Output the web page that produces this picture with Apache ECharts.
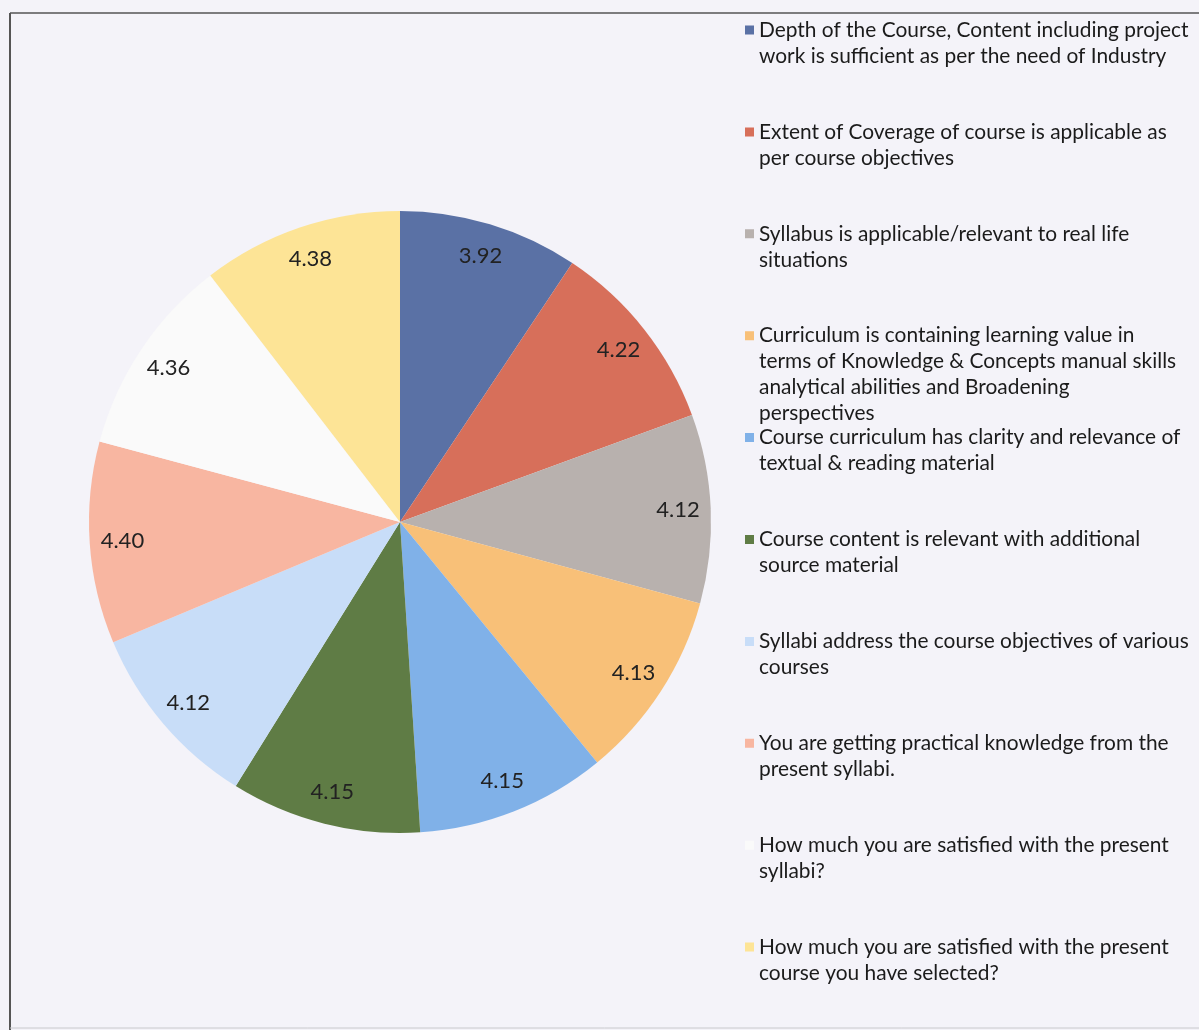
<!DOCTYPE html>
<html>
<head>
<meta charset="utf-8">
<script src="https://cdn.jsdelivr.net/npm/echarts@6/dist/echarts.min.js"></script>
<style>
html,body{margin:0;padding:0;background:#f4f3f9;}
#chart{width:1199px;height:1030px;}
</style>
</head>
<body>
<div id="chart"></div>
<script>
const categories = [
  "Depth of the Course, Content including project\nwork is sufficient as per the need of Industry",
  "Extent of Coverage of course is applicable as\nper course objectives",
  "Syllabus is applicable/relevant to real life\nsituations",
  "Curriculum is containing learning value in\nterms of Knowledge & Concepts manual skills\nanalytical abilities and Broadening\nperspectives",
  "Course curriculum has clarity and relevance of\ntextual & reading material",
  "Course content is relevant with additional\nsource material",
  "Syllabi address the course objectives of various\ncourses",
  "You are getting practical knowledge from the\npresent syllabi.",
  "How much you are satisfied with the present\nsyllabi?",
  "How much you are satisfied with the present\ncourse you have selected?"
];
const values = [3.92, 4.22, 4.12, 4.13, 4.15, 4.15, 4.12, 4.40, 4.36, 4.38];
const colors = ["#5a71a5", "#d76f5a", "#b8b1ae", "#f8c078", "#80b1e8", "#5f7c45", "#c8ddf8", "#f8b6a1", "#fafafa", "#fde496"];

const LINE_H = 26;
const FONT = "Lato, 'Open Sans', sans-serif";
const CX = 400, CY = 522, R = 311;

const data = categories.map((c, i) => ({ name: c, value: values[i], itemStyle: { color: colors[i] } }));

const legends = categories.map((c, i) => {
  const n = c.split("\n").length;
  const h = n * LINE_H;
  return {
    data: [c],
    orient: "vertical",
    left: 745,
    top: 30 + i * 101.9 - LINE_H / 2,
    itemWidth: 9,
    itemHeight: h,
    icon: "path://M0,8.5h9v9h-9z M0,0h0.01v0.01h-0.01z M0," + (h - 0.01) + "h0.01v0.01h-0.01z",
    selectedMode: false,
    padding: 0,
    textStyle: { fontFamily: FONT, fontSize: 20.9, color: "#1b1b1b", lineHeight: LINE_H }
  };
});

const chart = echarts.init(document.getElementById("chart"), null, { renderer: "canvas" });
chart.setOption({
  backgroundColor: "#f4f3f9",
  animation: false,
  legend: legends,
  graphic: [
    { type: "line", shape: { x1: 10, y1: 13, x2: 1199, y2: 13 }, style: { stroke: "#555", lineWidth: 1.5 } },
    { type: "line", shape: { x1: 10, y1: 13, x2: 10, y2: 1030 }, style: { stroke: "#555", lineWidth: 2 } },
    { type: "line", shape: { x1: 10, y1: 1028, x2: 1199, y2: 1028 }, style: { stroke: "#c8c8cc", lineWidth: 1 } }
  ],
  series: [
    {
      type: "pie",
      center: [CX, CY],
      radius: [0, R],
      startAngle: 90,
      clockwise: true,
      silent: true,
      label: { show: false },
      labelLine: { show: false },
      itemStyle: { borderWidth: 0 },
      data: data
    },
    {
      type: "pie",
      center: [CX, CY],
      radius: [R * 0.77, R],
      startAngle: 90,
      clockwise: true,
      silent: true,
      legendHoverLink: false,
      itemStyle: { color: "rgba(0,0,0,0)", borderWidth: 0 },
      label: {
        show: true,
        position: "inside",
        formatter: p => p.value.toFixed(2),
        fontFamily: FONT,
        fontSize: 22,
        color: "#222"
      },
      labelLine: { show: false },
      data: categories.map((c, i) => ({ name: c + " ", value: values[i] }))
    }
  ]
});
</script>
</body>
</html>
